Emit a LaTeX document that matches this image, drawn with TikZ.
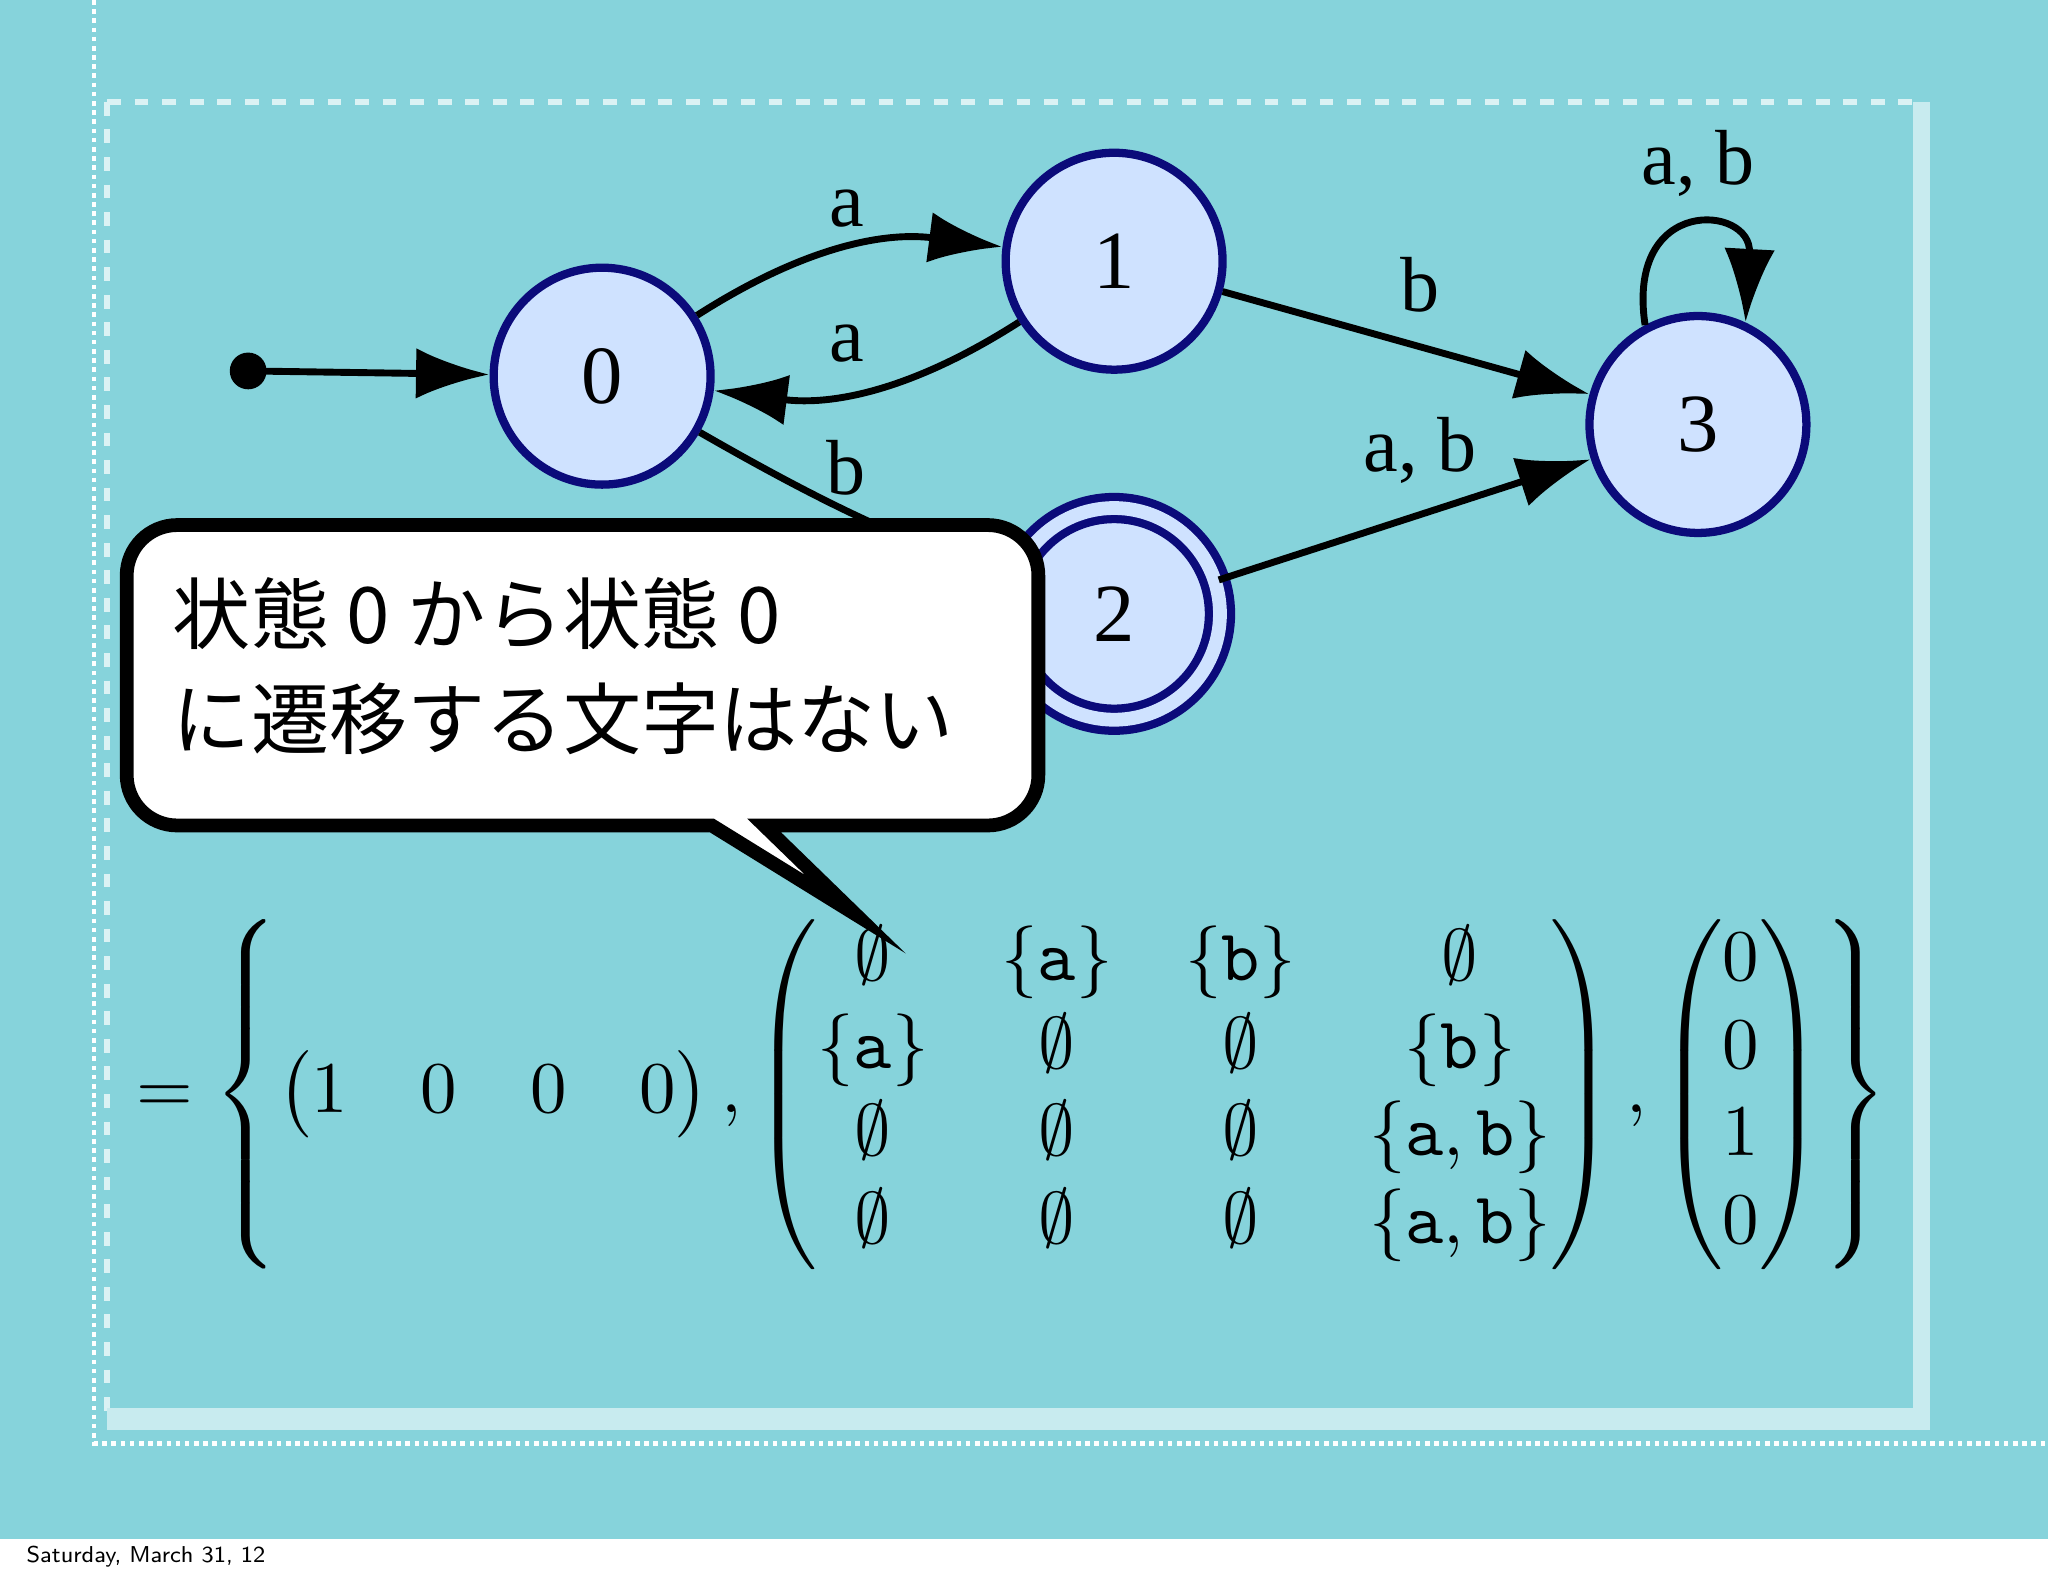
\documentclass[tikz,border=0pt]{standalone}
\usepackage{fontspec}
\usepackage{amsmath,graphicx}
\setmainfont{Liberation Serif}
\newfontfamily\cjk{Noto Sans CJK JP}
\usetikzlibrary{arrows.meta}
\definecolor{bg}{HTML}{86D3DB}
\definecolor{nfill}{HTML}{CFE2FF}
\definecolor{nline}{HTML}{0B0B7A}
\tikzset{
 st/.style={circle,draw=nline,line width=1.8pt,fill=nfill,minimum size=1.66cm,inner sep=0pt,font=\fontsize{18}{20}\selectfont},
 ed/.style={line width=1.5pt,-{Latex[length=16pt,width=11pt]}},
 lb/.style={font=\fontsize{17}{19}\selectfont},
}
\begin{document}
\begin{tikzpicture}[x=0.01cm,y=-0.01cm]
\useasboundingbox (0,0) rectangle (1568,1206);
\fill[bg] (0,0) rectangle (1568,1178);
\fill[white] (0,1178) rectangle (1568,1206);
\node[anchor=west,font=\sffamily\fontsize{5}{6}\selectfont] (date) at (8,1192) {Saturday, March 31, 12};
\draw[white,densely dotted,line width=1pt] (72,0) -- (72,1105) -- (1568,1105);
\draw[white!70!bg,dashed,line width=1.2pt] (82,78) -- (1465,78);
\draw[white!70!bg,dashed,line width=1.2pt] (82,78) -- (82,1085);
\fill[white!55!bg] (82,1078) rectangle (1475,1095);
\fill[white!55!bg] (1465,78) rectangle (1478,1095);
% states
\node[st] (s0) at (461,288) {0};
\node[st] (s1) at (853,200) {1};
\node[st,double=nfill,double distance=3pt,minimum size=1.62cm] (s2) at (853,470) {2};
\node[st] (s3) at (1300,325) {3};
\fill (190,284) circle (4pt) coordinate (init);
\draw[ed] (init) -- (s0);
\draw[ed] (s0) to[bend left=20] (s1);
\draw[ed] (s1) to[bend left=20] (s0);
\draw[ed] (s1) -- (s3);
\draw[ed] (s0) to[bend right=5] (s2);
\draw[ed] (s2) -- (s3);
\draw[ed] (s3.118) .. controls +(-15,-100) and +(5,-90) .. (s3.65);
\node[lb] (l1) at (648,160) {a};
\node[lb] (l2) at (648,263) {a};
\node[lb] (l3) at (1087,218) {b};
\node[lb] (l4) at (648,358) {b};
\node[lb] (l5) at (1087,345) {a, b};
\node[lb] (l6) at (1300,125) {a, b};
% callout
\draw[line width=3pt,fill=white,line join=miter] (97,517) [rounded corners=11pt]-- (97,402) -- (795,402) -- (795,632) [sharp corners]-- (585,632) -- (655,700) -- (545,632) [rounded corners=11pt]-- (97,632) -- cycle;
\node[anchor=west,align=left,font=\cjk\fontsize{17}{23}\selectfont] (ct) at (120,510) {状態 0 から状態 0\\に遷移する文字はない};
% equation
\node (eq) at (775,838) {\resizebox{13.4cm}{!}{$=\left\{\begin{pmatrix}1&0&0&0\end{pmatrix},\begin{pmatrix}\emptyset&\{\mathtt{a}\}&\{\mathtt{b}\}&\emptyset\\ \{\mathtt{a}\}&\emptyset&\emptyset&\{\mathtt{b}\}\\ \emptyset&\emptyset&\emptyset&\{\mathtt{a},\mathtt{b}\}\\ \emptyset&\emptyset&\emptyset&\{\mathtt{a},\mathtt{b}\}\end{pmatrix},\begin{pmatrix}0\\0\\1\\0\end{pmatrix}\right\}$}};
\end{tikzpicture}
\end{document}
